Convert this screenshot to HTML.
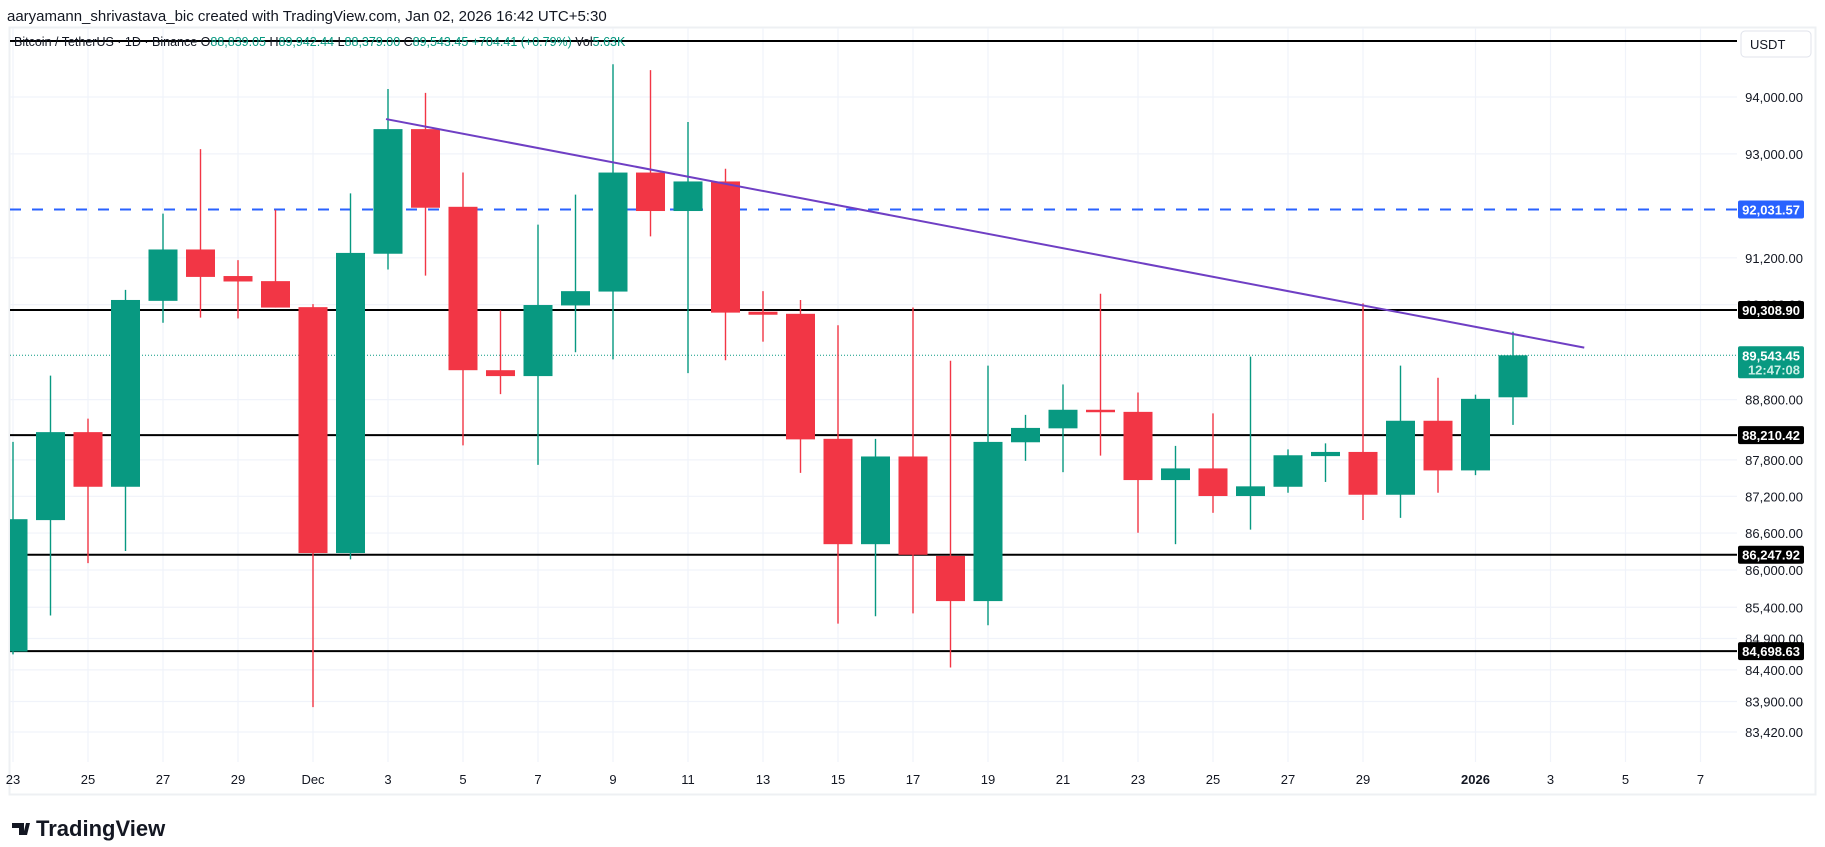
<!DOCTYPE html>
<html><head><meta charset="utf-8"><style>
html,body{margin:0;padding:0;background:#fff;}
svg{display:block;font-family:"Liberation Sans",sans-serif;}
</style></head><body>
<svg id="chart" width="1825" height="847" viewBox="0 0 1825 847" xmlns="http://www.w3.org/2000/svg">
<text x="7" y="21" font-size="15" fill="#131722">aaryamann_shrivastava_bic created with TradingView.com, Jan 02, 2026 16:42 UTC+5:30</text>
<rect x="9.5" y="27.5" width="1806" height="767" fill="#fff" stroke="#eef0f3" stroke-width="2"/>
<g id="grid"></g>
<g id="levels"></g>
<g id="candles"></g>
<g id="trend"></g>
<g id="yaxis"></g>
<g id="xaxis"></g>
<text x="14" y="46" font-size="12.5" fill="#131722">Bitcoin / TetherUS · 1D · Binance  O<tspan fill="#089981">88,839.05</tspan>  H<tspan fill="#089981">89,942.44</tspan>  L<tspan fill="#089981">88,379.00</tspan>  C<tspan fill="#089981">89,543.45  +704.41 (+0.79%)</tspan>  Vol<tspan fill="#089981">5.63K</tspan></text>
<rect x="1741" y="31" width="70" height="26" rx="4" fill="#fff" stroke="#e0e3eb"/>
<text x="1750" y="49" font-size="13" fill="#131722">USDT</text>
<g>
<path d="M12 823h12v12h-5v-7h-7z M26 823h4l-3 12h-4z" fill="#131722"/>
<text x="36" y="836" font-size="22" font-weight="bold" fill="#131722">TradingView</text>
</g>
</svg>
<script>
// ---- data ----
const dayLabels = ["23","25","27","29","Dec","3","5","7","9","11","13","15","17","19","21","23","25","27","29","2026","3","5","7"];
const dayLabelIdx = [0,2,4,6,8,10,12,14,16,18,20,22,24,26,28,30,32,34,36,39,41,43,45];
const opens  = [84692,86811,88259,87357,90465,91343,90888,90801,90358,86275,91270,93434,92079,89293,89194,90387,90623,92674,92006,92519,90280,90245,88148,86419,87856,86228,85499,88091,88322,88631,88596,87467,87659,87205,87357,87862,87931,87226,88448,87626,88839];
const highs  = [88097,89201,88484,90652,91961,93084,91160,92027,90409,92311,94141,94074,92674,90302,91772,92291,94580,94476,93560,92740,90630,90480,90051,88148,90351,89452,89369,88546,89054,90586,88920,88031,88571,89521,87973,88073,90423,89369,89166,88883,89942];
const lows   = [84646,85267,86112,86309,90093,90180,90166,90351,83811,86173,91000,90895,88040,88892,87717,89595,89474,91568,89243,89461,89773,87585,85138,85255,85302,84438,85111,87784,87597,87871,86605,86419,86930,86655,87259,87436,86813,86848,87259,87548,88379];
const closes = [86826,88259,87357,90480,91343,90873,90795,90351,86275,91284,93434,92063,89293,89194,90394,90630,92674,92006,92519,90265,90229,88139,86419,87856,86247,85499,88097,88329,88631,88590,87467,87659,87205,87364,87876,87931,87226,88448,87626,88813,89543.45];
const priceTicks = [94000,93000,91200,90400,88800,88200,87800,87200,86600,86000,85400,84900,84400,83900,83420];
const levelPrices = [90308.90,88210.42,86247.92,84698.63];
const dashedLevel = 92031.57;
const lastPrice = 89543.45;
const trendDays = [10,41.9];
const trendPrices = [93611,89673];

// ---- scales ----
const X0=13, DX=37.5, PL=10, PR=1737, PT=28, PB=762;
function xOf(i){return X0+DX*i;}
function yOf(p){return 97+5318*(Math.log(94000)-Math.log(p));}
function fmt(p){return p.toLocaleString('en-US',{minimumFractionDigits:2,maximumFractionDigits:2});}
const NS="http://www.w3.org/2000/svg";
function mk(tag,attrs,parent){const e=document.createElementNS(NS,tag);for(const k in attrs)e.setAttribute(k,attrs[k]);parent.appendChild(e);return e;}
const svgEl=document.getElementById('chart');
const defsEl=mk('defs',{},svgEl);
const cpEl=mk('clipPath',{id:'plotclip'},defsEl);
mk('rect',{x:PL,y:PT,width:PR-PL,height:PB-PT},cpEl);

// grid
const gridG=document.getElementById('grid');
priceTicks.forEach(p=>{
  const l=mk('line',{x1:PL,x2:PR,y1:yOf(p),y2:yOf(p),stroke:'#f0f3fa','stroke-width':1.2},gridG);
  
  
});
dayLabelIdx.forEach(i=>{
  const l=mk('line',{x1:xOf(i),x2:xOf(i),y1:PT,y2:PB,stroke:'#f0f3fa','stroke-width':1.2},gridG);
  
  
});

// levels
const lvG=document.getElementById('levels');
const topLine=mk('line',{x1:PL,x2:PR,y1:41,y2:41,stroke:'#000','stroke-width':2},lvG);


levelPrices.forEach(p=>{
  const l=mk('line',{x1:PL,x2:PR,y1:yOf(p),y2:yOf(p),stroke:'#000','stroke-width':2},lvG);
  
  
});
const dashLine=mk('line',{x1:PL,x2:PR,y1:yOf(dashedLevel),y2:yOf(dashedLevel),stroke:'#2962ff','stroke-width':2,'stroke-dasharray':'11 11'},lvG);


const lastLine=mk('line',{x1:PL,x2:PR,y1:yOf(lastPrice),y2:yOf(lastPrice),stroke:'#089981','stroke-width':1,'stroke-dasharray':'1 2'},lvG);



// candles
const candleG=document.getElementById('candles');
candleG.setAttribute('clip-path','url(#plotclip)');
opens.forEach((o,i)=>{
  const c=closes[i],h=highs[i],lo=lows[i];
  const col=c>=o?'#089981':'#f23645';
  const x=xOf(i);
  const g=mk('g',{},candleG);
  
  
  mk('line',{x1:x,x2:x,y1:yOf(h),y2:yOf(lo),stroke:col,'stroke-width':1.4},g);
  const yt=yOf(Math.max(o,c)),yb=yOf(Math.min(o,c));
  mk('rect',{x:x-14.5,y:yt,width:29,height:Math.max(yb-yt,2),fill:col},g);
});

// trendline
const trendG=document.getElementById('trend');
const trendLine=mk('line',{x1:xOf(trendDays[0])-2,y1:yOf(trendPrices[0]),x2:xOf(trendDays[1]),y2:yOf(trendPrices[1]),stroke:'#6f3fc4','stroke-width':2},trendG);



// y axis
const yaG=document.getElementById('yaxis');
priceTicks.forEach(p=>{
  const t=mk('text',{x:1803,y:yOf(p)+5,'font-size':13,fill:'#131722','text-anchor':'end'},yaG);
  
  
  t.textContent=fmt(p);
});
function priceTag(p,bg,name,h){
  const y=yOf(p);
  const r=mk('rect',{x:1738,y:y-9,width:66,height:h||18,rx:2,fill:bg},yaG);
  
  
  const t=mk('text',{x:1800,y:y+5,'font-size':13,'font-weight':'bold',fill:'#fff','text-anchor':'end'},yaG);
  
  
  t.textContent=fmt(p);
}
priceTag(dashedLevel,'#2962ff','dashed-level-tag');
levelPrices.forEach(p=>priceTag(p,'#000','level-price-tag'));
priceTag(lastPrice,'#089981','last-price-tag',32);
const cdText=mk('text',{x:1800,y:yOf(lastPrice)+19,'font-size':13,'font-weight':'bold',fill:'#c9efe6','text-anchor':'end'},yaG);


cdText.textContent='12:47:08';

// x axis
const xaG=document.getElementById('xaxis');
dayLabels.forEach((s,k)=>{
  const t=mk('text',{x:xOf(dayLabelIdx[k]),y:784,'font-size':13,fill:'#131722','text-anchor':'middle','font-weight':s==='2026'?'bold':'normal'},xaG);
  
  
  t.textContent=s;
});
</script>
</body></html>
